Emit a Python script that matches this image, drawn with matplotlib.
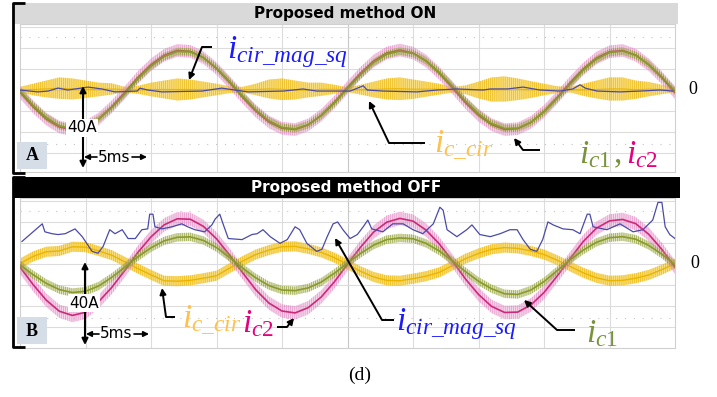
import numpy as np
import matplotlib.pyplot as plt
from matplotlib.patches import Rectangle

plt.rcParams['mathtext.fontset'] = 'custom'
plt.rcParams['mathtext.it'] = 'Liberation Serif:italic'
plt.rcParams['mathtext.rm'] = 'Liberation Serif'
plt.rcParams['hatch.linewidth'] = 0.5

# ---------------------------------------------------------------
# scope data: time in ms (5 ms/div), current in divisions
# ---------------------------------------------------------------
T_MS = [0, 1, 2, 3, 4, 5, 6, 7, 8, 9, 10, 11, 12, 13, 14, 15, 16, 17, 18, 19,
        20, 21, 22, 23, 24, 25, 26, 27, 28, 29, 30, 31, 32, 33, 34, 35, 36, 37,
        38, 39, 40, 41, 42, 43, 44, 45, 46, 47, 48, 49, 50]

# panel A : proposed method ON
IC1_A = [-0.05, -0.73, -1.31, -1.70, -1.85, -1.74, -1.39, -0.85, -0.19, 0.52,
         1.13, 1.59, 1.83, 1.81, 1.54, 1.05, 0.41, -0.28, -0.94, -1.46,
         -1.78, -1.85, -1.65, -1.22, -0.63, 0.06, 0.72, 1.31, 1.70, 1.85,
         1.74, 1.39, 0.85, 0.19, -0.52, -1.13, -1.59, -1.83, -1.81, -1.54,
         -1.05, -0.41, 0.28, 0.94, 1.46, 1.78, 1.85, 1.65, 1.22, 0.63, -0.06]
IC2_A = [-0.10, -0.80, -1.38, -1.76, -1.90, -1.76, -1.38, -0.80, -0.12, 0.60,
         1.20, 1.65, 1.88, 1.84, 1.54, 1.02, 0.36, -0.35, -1.00, -1.52,
         -1.82, -1.88, -1.66, -1.20, -0.58, 0.12, 0.80, 1.38, 1.76, 1.90,
         1.76, 1.38, 0.80, 0.12, -0.60, -1.20, -1.65, -1.88, -1.84, -1.54,
         -1.02, -0.36, 0.35, 1.00, 1.52, 1.82, 1.88, 1.66, 1.20, 0.58, -0.12]
ICIR_A_HI = [0.15, 0.30, 0.45, 0.60, 0.55, 0.45, 0.35, 0.32, 0.15, 0.20,
             0.35, 0.45, 0.55, 0.50, 0.40, 0.30, 0.18, 0.15, 0.30, 0.50,
             0.55, 0.45, 0.35, 0.35, 0.25, 0.12, 0.25, 0.40, 0.55, 0.60,
             0.50, 0.40, 0.30, 0.14, 0.22, 0.40, 0.60, 0.65, 0.55, 0.42,
             0.30, 0.18, 0.15, 0.30, 0.45, 0.60, 0.60, 0.45, 0.38, 0.25, 0.12]
ICIR_A_LO = [-0.12, -0.25, -0.35, -0.42, -0.45, -0.38, -0.30, -0.22, -0.12, -0.18,
             -0.30, -0.40, -0.50, -0.45, -0.35, -0.25, -0.15, -0.12, -0.25, -0.40,
             -0.48, -0.45, -0.35, -0.28, -0.18, -0.10, -0.22, -0.35, -0.45, -0.48,
             -0.42, -0.32, -0.22, -0.12, -0.20, -0.40, -0.55, -0.55, -0.48, -0.38,
             -0.25, -0.15, -0.12, -0.28, -0.40, -0.50, -0.50, -0.42, -0.30, -0.20, -0.10]
MAG_A_T = [0, 1.35, 2.15, 2.9, 3.65, 5.2, 6.25, 7.25, 8.95, 9.15, 9.75, 10.85,
           13.9, 15.4, 17.4, 20.1, 21.6, 22.65, 25.2, 26.2, 26.5, 27.7, 30.3,
           31.85, 33.35, 35.35, 35.9, 37.2, 38.4, 39.7, 41.2, 42.2, 42.75,
           43.15, 44.05, 45.8, 47.35, 48.85, 49.85]
MAG_A = [0, -0.09, -0.05, 0.09, 0, 0.14, 0.05, -0.09, -0.05, 0.09, 0, -0.09,
         -0.05, 0.09, -0.09, -0.05, 0.05, -0.05, -0.05, 0.2, 0, -0.05, -0.09,
         0, 0.05, 0, 0.05, 0.05, 0.14, 0, -0.05, 0.05, 0.25,
         0.09, -0.05, -0.09, -0.05, 0, -0.05]

# panel B : proposed method OFF
IC1_B = [-0.04, -0.51, -0.92, -1.22, -1.36, -1.30, -1.05, -0.64, -0.15, 0.34,
         0.77, 1.10, 1.27, 1.29, 1.12, 0.78, 0.31, -0.20, -0.66, -1.03,
         -1.24, -1.27, -1.14, -0.86, -0.44, 0.04, 0.50, 0.90, 1.16, 1.24,
         1.20, 0.98, 0.62, 0.15, -0.36, -0.82, -1.18, -1.42, -1.45, -1.24,
         -0.84, -0.32, 0.20, 0.66, 1.03, 1.25, 1.30, 1.18, 0.88, 0.46, -0.04]
IC2_B = [-0.15, -0.98, -1.72, -2.25, -2.45, -2.30, -1.80, -1.12, -0.31, 0.55,
         1.29, 1.86, 2.15, 2.13, 1.79, 1.20, 0.42, -0.42, -1.23, -1.86,
         -2.24, -2.33, -2.08, -1.57, -0.85, -0.01, 0.80, 1.52, 1.99, 2.17,
         2.04, 1.61, 0.96, 0.15, -0.71, -1.45, -2.02, -2.31, -2.29, -1.95,
         -1.36, -0.58, 0.26, 1.07, 1.70, 2.05, 2.12, 1.92, 1.41, 0.69, -0.15]
ICIR_B = [0.02, 0.36, 0.58, 0.62, 0.82, 0.80, 0.62, 0.42, 0.10, -0.22,
          -0.52, -0.80, -0.82, -0.78, -0.68, -0.56, -0.20, 0.14, 0.45, 0.66,
          0.82, 0.84, 0.72, 0.55, 0.30, -0.02, -0.35, -0.62, -0.78, -0.80,
          -0.70, -0.58, -0.40, -0.08, 0.25, 0.50, 0.70, 0.78, 0.74, 0.62,
          0.45, 0.18, -0.12, -0.42, -0.66, -0.80, -0.78, -0.68, -0.52, -0.27, 0.02]
MAG_B_T = [0.15, 1.7, 1.9, 2.45, 2.9, 3.45, 4.2, 4.75, 5.5, 5.95, 6.35, 6.85,
           7.25, 7.8, 8.25, 8.8, 9.3, 9.75, 9.9, 10.15, 10.3, 10.85, 11.6,
           12.35, 12.8, 13.35, 14.1, 14.65, 14.9, 15.25, 15.5, 15.9, 16.95,
           17.7, 18.1, 18.55, 19.1, 19.85, 20.4, 21.0, 21.35, 21.9, 22.65,
           23.05, 23.45, 23.9, 24.25, 24.65, 25.2, 25.75, 26.2, 26.55, 26.85,
           27.7, 28.45, 29.25, 30.0, 30.75, 31.55, 32.05, 32.3, 32.6, 33.35,
           34.1, 34.5, 35.1, 35.9, 36.65, 37.4, 37.95, 38.4, 38.95, 39.45,
           39.9, 40.3, 40.7, 41.45, 42.2, 42.75, 43.3, 43.5, 43.75, 44.8,
           45.8, 46.8, 47.55, 48.3, 48.7, 49.0, 49.25, 49.6, 50.0]
MAG_B = [1.07, 1.91, 1.53, 1.44, 1.40, 1.44, 1.67, 1.30, 0.60, 0.51, 0.84, 1.63,
         1.44, 1.63, 1.21, 1.21, 1.63, 1.67, 2.37, 2.37, 1.77, 1.67, 1.77,
         1.91, 1.77, 1.63, 1.53, 1.86, 2.14, 2.37, 1.91, 1.21, 1.16,
         1.40, 1.44, 1.63, 1.30, 0.98, 1.16, 1.77, 1.63, 0.98, 0.60,
         0.70, 1.30, 1.91, 2.00, 1.63, 1.21, 1.40, 1.77, 2.09, 1.67,
         1.53, 1.91, 1.91, 1.63, 1.44, 1.91, 2.70, 2.56, 1.63, 1.30,
         1.63, 1.86, 1.40, 1.30, 1.44, 1.63, 1.63, 1.16, 0.70, 0.60,
         1.16, 2.00, 1.86, 1.67, 1.63, 1.44, 2.37, 2.37, 1.77, 1.63,
         1.91, 1.53, 1.63, 2.09, 2.93, 2.93, 1.77, 1.40, 1.21]

RIPPLE = {'ic1_A': 0.18, 'ic2_A': 0.30, 'ic1_B': 0.20, 'ic2_B': 0.32, 'icir_B': 0.24}

YEL, YEL_D = '#f5c518', '#eab400'
MAG, MAG_L = '#cc2a78', '#e58ac8'
OLV, OLV_L = '#8a9a2c', '#a7b04a'
NAVY = '#4a4aa8'

W, H = 717, 397
fig = plt.figure(figsize=(W / 100, H / 100), dpi=100)


def px_axes(x0, y0, x1, y1):
    return fig.add_axes([x0 / W, 1 - y1 / H, (x1 - x0) / W, (y1 - y0) / H])


def scope_grid(ax, ylo, yhi):
    ax.set_xlim(0, 50)
    ax.set_ylim(ylo, yhi)
    for xv in range(5, 50, 5):
        ax.axvline(xv, color='#c8c8c8' if xv == 25 else '#dcdcdc', lw=0.8, zorder=0)
    for yv in range(-3, 4):
        ax.axhline(yv, color='#dcdcdc', lw=0.8, zorder=0)
    for yv in (2.5, -2.55):
        ax.axhline(yv, color='#c4c4c4', lw=0.8, ls=(0, (1, 7)), zorder=0)
    ax.set_xticks([])
    ax.set_yticks([])
    for s in ax.spines.values():
        s.set_color('#d0d0d0')
        s.set_linewidth(0.8)


def band(ax, t, lo, hi, mid, face, edge, line, lw=1.0, z=2, fa=0.35):
    ax.fill_between(t, lo, hi, facecolor=face, alpha=fa, lw=0, zorder=z)
    ax.fill_between(t, lo, hi, facecolor='none', edgecolor=edge, hatch='||||||||',
                    lw=0, alpha=0.85, zorder=z)
    ax.plot(t, mid, color=line, lw=lw, zorder=z)


def trace(ax, t, v, r, face, edge, line, lw=1.2, z=2, fa=0.35):
    v = np.asarray(v)
    band(ax, t, v - r, v + r, v, face, edge, line, lw, z, fa)


# ---------------- panel A ----------------
axA = px_axes(20, 24, 675, 172)
scope_grid(axA, -3.9, 3.14)
lo, hi = np.asarray(ICIR_A_LO), np.asarray(ICIR_A_HI)
band(axA, T_MS, lo, hi, (lo + hi) / 2, YEL, YEL_D, YEL_D, lw=0.8, z=2, fa=0.55)
trace(axA, T_MS, IC2_A, RIPPLE['ic2_A'], MAG_L, MAG_L, MAG, z=3)
trace(axA, T_MS, IC1_A, RIPPLE['ic1_A'], OLV_L, OLV, OLV, z=4)
axA.plot(MAG_A_T, MAG_A, color=NAVY, lw=0.9, zorder=5)

# ---------------- panel B ----------------
axB = px_axes(20, 198, 675, 348)
scope_grid(axB, -4.0, 3.14)
trace(axB, T_MS, ICIR_B, RIPPLE['icir_B'], YEL, YEL_D, YEL_D, lw=1.0, z=2, fa=0.55)
trace(axB, T_MS, IC2_B, RIPPLE['ic2_B'], MAG_L, MAG_L, MAG, z=3)
trace(axB, T_MS, IC1_B, RIPPLE['ic1_B'], OLV_L, OLV, OLV, z=4)
axB.plot(MAG_B_T, MAG_B, color=NAVY, lw=0.9, zorder=5)

# ---------------- annotations (pixel overlay) ----------------
ov = fig.add_axes([0, 0, 1, 1], zorder=10)
ov.set_xlim(0, W)
ov.set_ylim(H, 0)
ov.axis('off')
ov.patch.set_visible(False)

ov.add_patch(Rectangle((13, 3), 665, 21, fc='#d9d9d9', ec='none'))
ov.text(345, 13.5, 'Proposed method ON', ha='center', va='center',
        fontsize=11, fontweight='bold', family='DejaVu Sans', color='k')
ov.add_patch(Rectangle((13, 177), 667, 21, fc='black', ec='none'))
ov.text(346, 187.5, 'Proposed method OFF', ha='center', va='center',
        fontsize=11, fontweight='bold', family='DejaVu Sans', color='white')

for top, bot in ((3, 173), (177, 347)):
    ov.plot([25, 13, 13, 25], [top, top, bot, bot], color='k', lw=2,
            solid_capstyle='butt')

for y0, y1, xa, yb, yt, y5, lab in ((86, 168, 83, 142, 128, 157, 'A'),
                                    (262, 345, 85, 317, 303, 334, 'B')):
    ov.annotate('', xy=(xa, y0), xytext=(xa, y1),
                arrowprops=dict(arrowstyle='<|-|>', color='k', lw=1.5,
                                mutation_scale=9, shrinkA=0, shrinkB=0))
    ov.text(xa - 1, yt, '40A', ha='center', va='center', fontsize=11,
            family='DejaVu Sans', color='k',
            bbox=dict(boxstyle='square,pad=0.1', fc='white', ec='none'))
    ov.annotate('', xy=(xa + 1, y5), xytext=(xa + 14, y5),
                arrowprops=dict(arrowstyle='-|>', color='k', lw=1.2,
                                mutation_scale=8, shrinkA=0, shrinkB=0))
    ov.annotate('', xy=(xa + 64, y5), xytext=(xa + 49, y5),
                arrowprops=dict(arrowstyle='-|>', color='k', lw=1.2,
                                mutation_scale=8, shrinkA=0, shrinkB=0))
    ov.text(xa + 31, y5, '5ms', ha='center', va='center', fontsize=11,
            family='DejaVu Sans', color='k')
    ov.add_patch(Rectangle((17, yb), 30, 27, fc='#d5dde7', ec='none'))
    ov.text(32, yb + 14, lab, ha='center', va='center', fontsize=13,
            fontweight='bold', family='Liberation Serif', color='k')

ov.text(688, 89, '0', ha='left', va='center', fontsize=13,
        family='Liberation Serif')
ov.text(690, 264, '0', ha='left', va='center', fontsize=13,
        family='Liberation Serif')
ov.text(360, 375, '(d)', ha='center', va='center', fontsize=14,
        family='Liberation Serif')


def pointer(pts):
    xs, ys = zip(*pts)
    ov.plot(xs[:-1], ys[:-1], color='k', lw=1.4, solid_capstyle='butt')
    ov.annotate('', xy=pts[-1], xytext=pts[-2],
                arrowprops=dict(arrowstyle='-|>', color='k', lw=1.4,
                                mutation_scale=9, shrinkA=0, shrinkB=0))


pointer([(212, 47), (202, 47), (189, 80)])
pointer([(425, 143), (389, 143), (369, 101)])
pointer([(540, 150), (523, 150), (514, 138)])
pointer([(175, 317), (166, 317), (162, 288)])
pointer([(277, 327), (287, 327), (294, 318)])
pointer([(394, 320), (382, 320), (335, 238)])
pointer([(575, 330), (557, 330), (524, 300)])

BLUE, ORANGE, GREEN, PINK = '#1a1aff', '#ffc04c', '#77933c', '#e6007e'
FS = 24
ov.text(227, 58, r'$i_{cir\_mag\_sq}$', color=BLUE, fontsize=FS, va='baseline')
ov.text(434, 152, r'$i_{c\_cir}$', color=ORANGE, fontsize=FS, va='baseline')
ov.text(579, 163, r'$i_{\mathit{c1}}$', color=GREEN, fontsize=FS, va='baseline')
ov.text(613, 163, r'$,$', color=GREEN, fontsize=FS, va='baseline')
ov.text(626, 163, r'$i_{\mathit{c2}}$', color=PINK, fontsize=FS, va='baseline')
ov.text(182, 327, r'$i_{c\_cir}$', color=ORANGE, fontsize=FS, va='baseline')
ov.text(242, 332, r'$i_{\mathit{c2}}$', color=PINK, fontsize=FS, va='baseline')
ov.text(396, 330, r'$i_{cir\_mag\_sq}$', color=BLUE, fontsize=FS, va='baseline')
ov.text(586, 342, r'$i_{\mathit{c1}}$', color=GREEN, fontsize=FS, va='baseline')

fig.savefig('out.png', dpi=100)
